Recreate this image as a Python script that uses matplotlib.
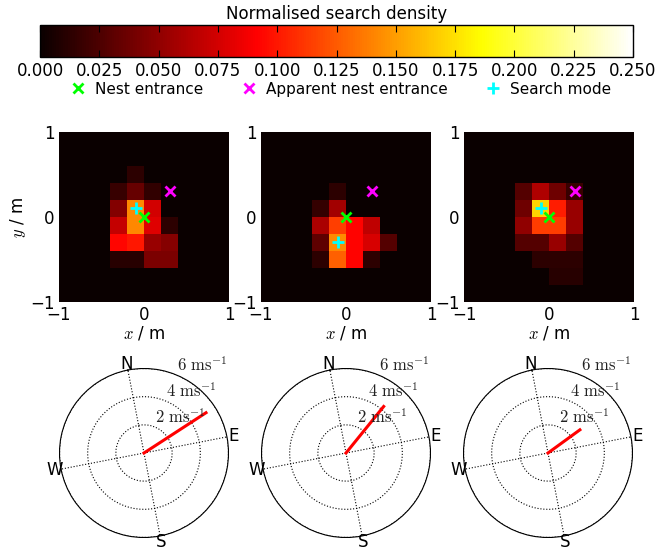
import numpy as np
import matplotlib
matplotlib.use('Agg')
import matplotlib.pyplot as plt
from matplotlib.lines import Line2D

plt.rcParams['mathtext.fontset'] = 'cm'
plt.rcParams['font.size'] = 12

#----------------------------------------------------------------------
# Search density grids (rows top to bottom, 10x10 cells over [-1, 1] m)

z = [0] * 10

density_1 = [
    z, z,
    [0, 0, 0, 0, 0.013, 0, 0, 0, 0, 0],
    [0, 0, 0, 0.017, 0.035, 0.015, 0, 0, 0, 0],
    [0, 0, 0, 0.045, 0.142, 0.075, 0, 0, 0, 0],
    [0, 0, 0, 0.070, 0.142, 0.080, 0.013, 0, 0, 0],
    [0, 0, 0, 0.093, 0.100, 0.053, 0.046, 0, 0, 0],
    [0, 0, 0, 0.011, 0.011, 0.042, 0.042, 0, 0, 0],
    z, z,
]

density_2 = [
    z, z, z,
    [0, 0, 0, 0, 0.013, 0, 0, 0, 0, 0],
    [0, 0, 0, 0.016, 0.057, 0, 0, 0, 0, 0],
    [0, 0, 0, 0.060, 0.115, 0.092, 0.068, 0, 0, 0],
    [0, 0, 0, 0.032, 0.143, 0.092, 0.077, 0.028, 0, 0],
    [0, 0, 0, 0.013, 0.127, 0.092, 0.013, 0, 0, 0],
    z, z,
]

density_3 = [
    z, z, z,
    [0, 0, 0, 0.028, 0.062, 0.038, 0.017, 0, 0, 0],
    [0, 0, 0, 0.038, 0.170, 0.102, 0.053, 0, 0, 0],
    [0, 0, 0, 0.050, 0.114, 0.114, 0.053, 0, 0, 0],
    [0, 0, 0, 0.028, 0.028, 0.053, 0.028, 0, 0, 0],
    [0, 0, 0, 0, 0.013, 0.013, 0.013, 0, 0, 0],
    [0, 0, 0, 0, 0, 0.011, 0.011, 0, 0, 0],
    z,
]

densities = [density_1, density_2, density_3]

nest = (0.0, 0.0)
apparent_nest = (0.3, 0.3)
search_modes = [(-0.1, 0.1), (-0.1, -0.3), (-0.1, 0.1)]

# wind: speed (m/s) and bearing (deg clockwise from N)
wind_speed = [5.25, 4.25, 2.8]
wind_bearing = [68, 50, 65]
compass_rotation = 11  # deg, N drawn rotated anticlockwise

speed_rings = [2, 4, 6]
speed_labels = [r'$2\ \mathrm{ms}^{-1}$', r'$4\ \mathrm{ms}^{-1}$', r'$6\ \mathrm{ms}^{-1}$']

vmax = 0.25
cbar_ticks = np.arange(0, 0.2501, 0.025)

#----------------------------------------------------------------------
# Plot

W, H = 659, 551
fig = plt.figure(figsize=(W / 100, H / 100), dpi=100)

def px(left, top, w, h):
    return [left / W, (H - top - h) / H, w / W, h / H]

# colorbar
cax = fig.add_axes(px(40, 25, 593, 32))
sm = plt.cm.ScalarMappable(cmap='hot', norm=plt.Normalize(0, vmax))
cb = fig.colorbar(sm, cax=cax, orientation='horizontal', ticks=cbar_ticks)
cb.ax.set_xticklabels(['%.3f' % t for t in cbar_ticks])
cb.ax.tick_params(direction='in', top=True, bottom=True, length=5, width=0.8)
cb.ax.set_title('Normalised search density', fontsize=12, pad=4)
cb.outline.set_linewidth(1)

# legend
handles = [
    Line2D([], [], ls='none', marker='x', color='lime', mew=2, ms=6.5),
    Line2D([], [], ls='none', marker='x', color='magenta', mew=2, ms=6.5),
    Line2D([], [], ls='none', marker='+', color='cyan', mew=2, ms=8),
]
fig.legend(handles, ['Nest entrance', 'Apparent nest entrance', 'Search mode'],
           loc='center', bbox_to_anchor=(341 / W, 1 - 89 / H), ncol=3,
           frameon=False, handlelength=1, handletextpad=0.6, columnspacing=2.5,
           fontsize=11)

# heatmaps
lefts = [59, 261, 464]
for i in range(3):
    ax = fig.add_axes(px(lefts[i], 132, 170, 170))
    ax.imshow(np.array(densities[i]), cmap='hot', vmin=0, vmax=vmax,
              extent=[-1, 1, -1, 1], origin='upper', interpolation='nearest')
    ax.plot(*nest, 'x', color='lime', mew=2, ms=7)
    ax.plot(*apparent_nest, 'x', color='magenta', mew=2, ms=7)
    ax.plot(*search_modes[i], '+', color='cyan', mew=2, ms=8)
    ax.set_xlim(-1, 1)
    ax.set_ylim(-1, 1)
    ax.set_xticks([-1, 0, 1])
    ax.set_yticks([-1, 0, 1])
    ax.tick_params(direction='in', length=0, labelsize=12, pad=3)
    for s in ax.spines.values():
        s.set_visible(False)
    ax.set_xlabel('$x$ / m', fontsize=12, labelpad=0)
    if i == 0:
        ax.set_ylabel('$y$ / m', fontsize=12, labelpad=2)

# wind compasses
centres = [144, 346, 548]
R = 84.5
for i in range(3):
    ax = fig.add_axes(px(centres[i] - R, 453 - R, 2 * R, 2 * R), projection='polar')
    ax.set_theta_direction(-1)
    ax.set_theta_offset(np.radians(90 + compass_rotation))
    ax.set_thetagrids([0, 90, 180, 270], ['N', 'E', 'S', 'W'], fontsize=12)
    ax.set_rgrids(speed_rings, [''] * len(speed_rings))
    ax.set_rlim(0, 6)
    ax.grid(True, linestyle=':', color='k', linewidth=0.8)
    ax.tick_params(axis='x', pad=-6)
    for r, lab in zip(speed_rings, speed_labels):
        ax.text(np.radians(34), r, lab, ha='left', va='bottom', fontsize=12,
                color='#222222')
    ax.plot([0, np.radians(wind_bearing[i])], [0, wind_speed[i]], color='red', lw=2.2)

plt.savefig('out.png', dpi=100)
